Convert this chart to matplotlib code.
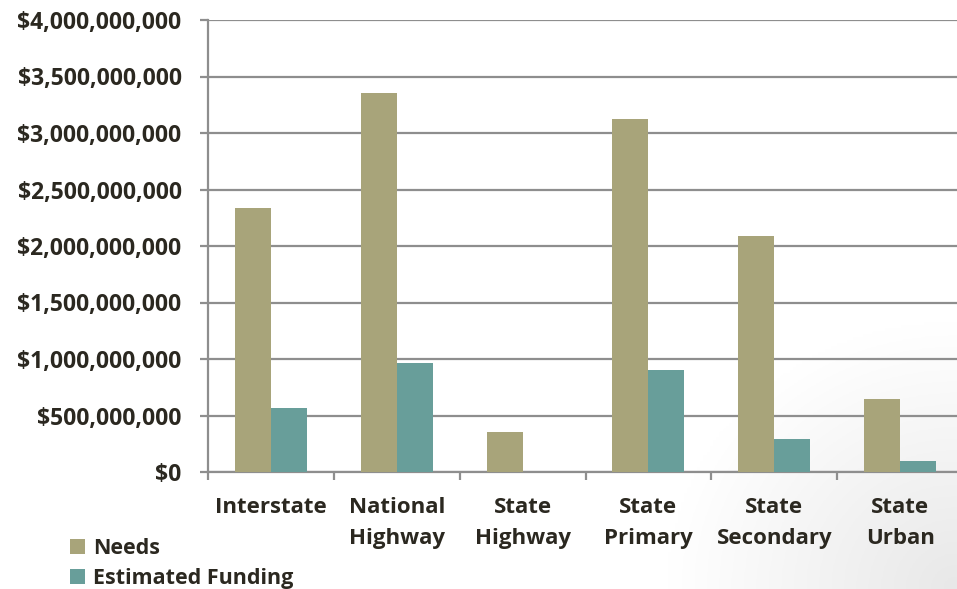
import matplotlib
matplotlib.use("Agg")
import matplotlib.pyplot as plt
import numpy as np
from matplotlib.ticker import FuncFormatter, FixedLocator

categories = ["Interstate", "National\nHighway", "State\nHighway", "State\nPrimary", "State\nSecondary", "State\nUrban"]
needs = [2.34e9, 3.355e9, 0.355e9, 3.125e9, 2.09e9, 0.645e9]
funding = [0.567e9, 0.965e9, 0.0, 0.903e9, 0.292e9, 0.097e9]
series_names = ["Needs", "Estimated Funding"]
yticks = [0, 0.5e9, 1.0e9, 1.5e9, 2.0e9, 2.5e9, 3.0e9, 3.5e9, 4.0e9]

c_needs = "#a8a47a"
c_fund = "#689e9a"
grid_c = "#8e8e8e"
text_c = "#2b2820"
font = "Open Sans"

W, H = 957, 589
fig = plt.figure(figsize=(W / 100, H / 100), dpi=100)

# subtle background gradient toward bottom-right
bg = fig.add_axes([0, 0, 1, 1], zorder=-10)
yy, xx = np.mgrid[0:1:200j, 0:1:300j]
d = np.sqrt(((1 - xx) / 0.3) ** 2 + ((1 - yy) / 0.45) ** 2)
shade = np.clip(1 - d, 0, 1) * 0.09
img = np.ones((200, 300, 3)) * (1 - shade)[..., None]
bg.imshow(img, extent=[0, 1, 0, 1], aspect="auto", origin="upper")
bg.axis("off")

ax = fig.add_axes([208 / W, (H - 472) / H, (963 - 208) / W, (472 - 20) / H])
ax.patch.set_alpha(0)

x = np.arange(len(categories))
bw = 0.286
ax.bar(x - bw / 2, needs, bw, color=c_needs, label=series_names[0], zorder=3)
ax.bar(x + bw / 2, funding, bw, color=c_fund, label=series_names[1], zorder=3)

ax.set_xlim(-0.5, len(categories) - 0.5)
ax.set_ylim(0, 4e9)
ax.yaxis.set_major_locator(FixedLocator(yticks))
ax.yaxis.set_major_formatter(FuncFormatter(lambda v, p: "${:,.0f}".format(v)))
ax.grid(axis="y", color=grid_c, linewidth=1.6, zorder=0)
ax.set_axisbelow(True)

for s in ["top", "right"]:
    ax.spines[s].set_visible(False)
for s in ["left", "bottom"]:
    ax.spines[s].set_color(grid_c)
    ax.spines[s].set_linewidth(1.6)

ax.tick_params(axis="y", length=6, width=1.6, color=grid_c, pad=13,
               labelsize=16.5, labelcolor=text_c)
ax.set_xticks(x)
ax.set_xticklabels(categories)
ax.set_xticks(np.arange(-0.5, len(categories), 1.0), minor=True)
ax.tick_params(axis="x", which="major", length=0, pad=18, labelsize=16, labelcolor=text_c)
ax.tick_params(axis="x", which="minor", length=6, width=1.6, color=grid_c)
for lab in ax.get_yticklabels() + ax.get_xticklabels():
    lab.set_fontfamily(font)
    lab.set_fontweight("bold")
for lab in ax.get_xticklabels():
    lab.set_linespacing(1.62)

leg = fig.legend(loc="lower left", bbox_to_anchor=(70 / W, 0.0), frameon=False,
                 handlelength=0.7, handleheight=0.7, handletextpad=0.38, labelspacing=0.42,
                 borderpad=0.0, borderaxespad=0.0,
                 prop={"family": font, "weight": "bold", "size": 15.5}, labelcolor=text_c)

fig.savefig("out.png", dpi=100)
